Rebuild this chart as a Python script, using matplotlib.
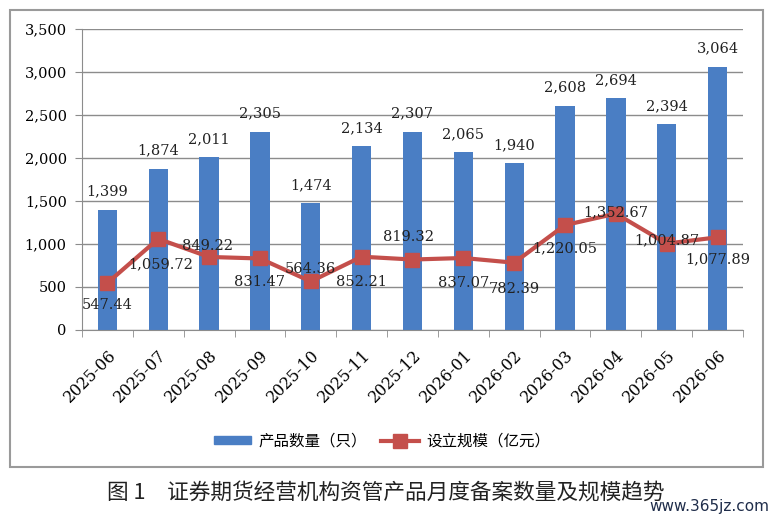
import numpy as np
import matplotlib
matplotlib.use('Agg')
import matplotlib.pyplot as plt
from matplotlib.patches import Rectangle
from matplotlib.lines import Line2D

months = ['2025-06', '2025-07', '2025-08', '2025-09', '2025-10', '2025-11', '2025-12',
          '2026-01', '2026-02', '2026-03', '2026-04', '2026-05', '2026-06']
counts = [1399, 1874, 2011, 2305, 1474, 2134, 2307, 2065, 1940, 2608, 2694, 2394, 3064]
scale = [547.44, 1059.72, 849.22, 831.47, 564.36, 852.21, 819.32,
         837.07, 782.39, 1220.05, 1352.67, 1004.87, 1077.89]
# where each line label sits relative to its point (offset in points)
scale_label_offsets = [(0, -16), (2, -18), (-1, 8), (0, -17), (0, 9), (0, -18), (-3, 16),
                       (0, -18), (0, -19), (0, -17), (0, 1), (0, 2), (0, -16)]

bar_color = '#4a7ec4'
line_color = '#c44f4b'
num_font = 'DejaVu Serif'
cjk = ['Noto Sans CJK SC', 'DejaVu Sans']

fig = plt.figure(figsize=(7.72, 5.19), dpi=100)
ax = fig.add_axes([0.1062, 0.3642, 0.8562, 0.5799])

# outer frame of the chart
fig.patches.append(Rectangle((10 / 772, 1 - 467 / 519), 753 / 772, 457 / 519,
                             transform=fig.transFigure, fill=False,
                             edgecolor='#9a9a9a', linewidth=1.5))

x = np.arange(len(months))
ax.bar(x, counts, width=0.38, color=bar_color, zorder=2)
ax.plot(x, scale, color=line_color, linewidth=3, marker='s', markersize=9.5, zorder=3)

for i, v in enumerate(counts):
    ax.annotate(f'{v:,}', (x[i], v), xytext=(0, 8), textcoords='offset points',
                ha='center', va='bottom', fontsize=10.5, family=num_font, color='#222222')

for i, v in enumerate(scale):
    dx, dy = scale_label_offsets[i]
    ax.annotate(f'{v:,.2f}', (x[i], v), xytext=(dx, dy), textcoords='offset points',
                ha='center', va='center', fontsize=10.5, family=num_font, color='#222222',
                zorder=4)

ax.set_xlim(-0.5, len(months) - 0.5)
ax.set_ylim(0, 3500)
ax.set_yticks(np.arange(0, 3501, 500))
ax.set_yticklabels([f'{t:,}' for t in range(0, 3501, 500)], family=num_font, fontsize=10.5)
ax.yaxis.grid(True, color='#8c8c8c', linewidth=1)
ax.set_axisbelow(True)

ax.set_xticks(x)
ax.set_xticklabels(months, rotation=45, ha='right', va='top', rotation_mode='anchor',
                   family=num_font, fontsize=11.5)
ax.set_xticks(np.arange(-0.5, len(months)), minor=True)
ax.tick_params(axis='x', which='major', length=0, pad=12)
ax.tick_params(axis='x', which='minor', length=5, color='#8c8c8c')
ax.tick_params(axis='y', length=5, color='#8c8c8c', pad=6)

for s in ['top', 'right']:
    ax.spines[s].set_visible(False)
for s in ['left', 'bottom']:
    ax.spines[s].set_color('#8c8c8c')

handles = [Rectangle((0, 0), 1, 1, color=bar_color),
           Line2D([], [], color=line_color, linewidth=3, marker='s', markersize=9.5)]
fig.legend(handles, ['产品数量（只）', '设立规模（亿元）'], loc='center',
           bbox_to_anchor=(382 / 772, 1 - 441 / 519), ncol=2, frameon=False,
           prop={'family': cjk, 'size': 11.2}, handlelength=2.4, handleheight=0.5,
           handletextpad=0.5, columnspacing=0.9)

fig.text(107 / 772, 1 - 493 / 519, '图 1　证券期货经营机构资管产品月度备案数量及规模趋势',
         family=cjk, fontsize=15.6, va='center', ha='left', color='#222222')
fig.text(769 / 772, 1 - 506 / 519, 'www.365jz.com', family=['Liberation Sans Narrow', 'DejaVu Sans'],
         fontsize=11, va='center', ha='right', color='#1f2d4a')

fig.savefig('out.png', dpi=100)
